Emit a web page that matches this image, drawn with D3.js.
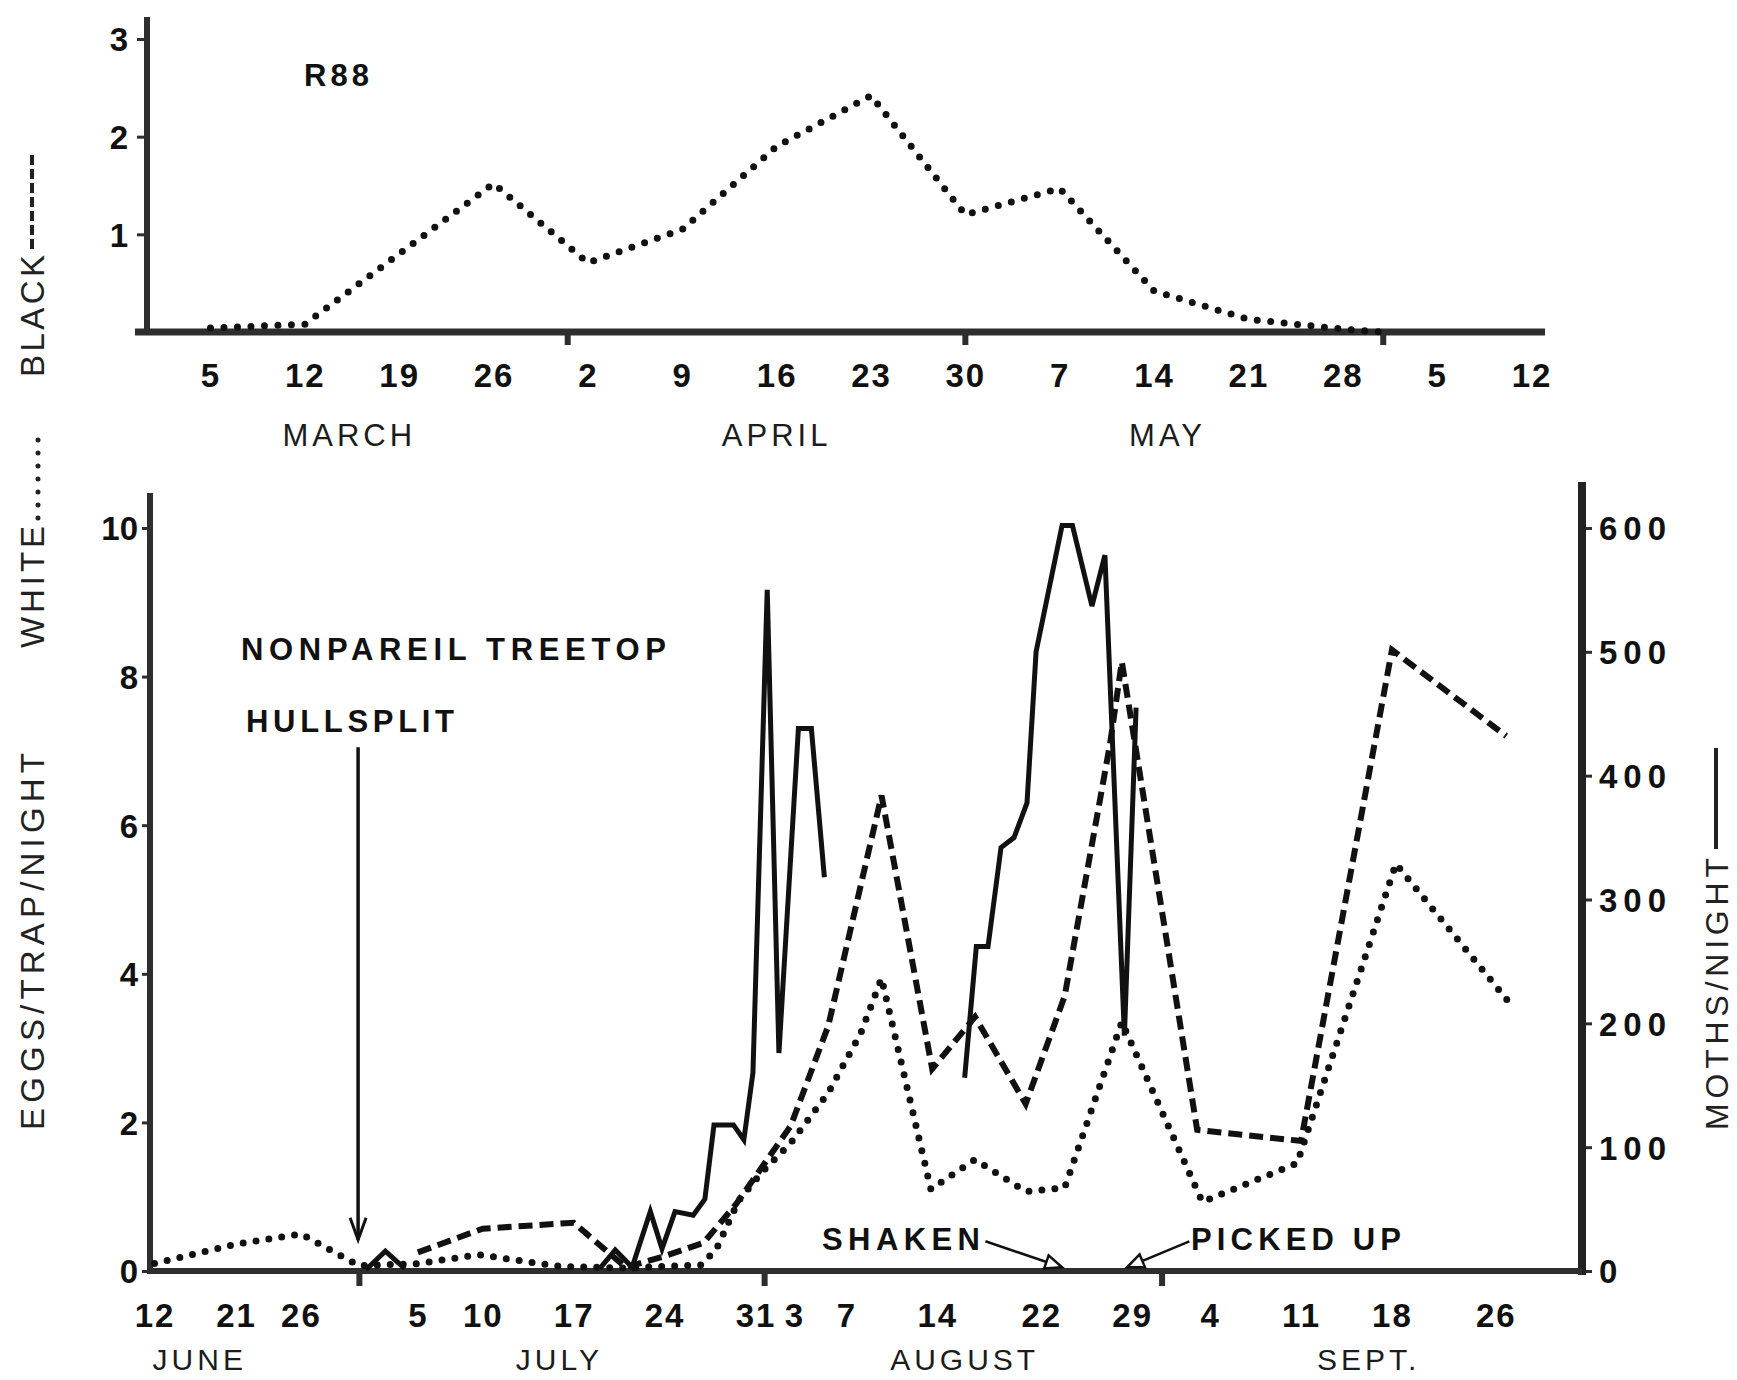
<!DOCTYPE html>
<html><head><meta charset="utf-8">
<script src="https://cdn.jsdelivr.net/npm/d3@7"></script>
<style>body{margin:0;background:#fff}svg{display:block}</style>
</head><body>
<script>
// ---------- DATA ----------
// Top panel (days since March 1)
const topTickDays   = [4,11,18,25,32,39,46,53,60,67,74,81,88,95,102];
const topTickLabels = ["5","12","19","26","2","9","16","23","30","7","14","21","28","5","12"];
const topMonths     = ["MARCH","APRIL","MAY"];
const topMonthDays  = [14.3,46,75];
const topMonthMarks = [30.5,60,91];
const topYTicks     = [1,2,3];
const topWhiteDays  = [4,11,25,32,39,46,53,60,67,74,81,88,91];
const topWhite      = [0.04,0.08,1.52,0.71,1.05,1.9,2.42,1.2,1.47,0.42,0.13,0.03,0];

// Bottom panel (days since June 1)
const botTickDays   = [11,20,25,34,39,46,53,60,63,67,74,82,89,95,102,109,117];
const botTickLabels = ["12","21","26","5","10","17","24","31","3","7","14","22","29","4","11","18","26"];
const botMonths     = ["JUNE","JULY","AUGUST","SEPT."];
const botMonthDays  = [16,44.9,76.1,107.2];
const botMonthMarks = [29.5,60.7,91.3];
const eggTicks      = [0,2,4,6,8,10];
const mothTicks     = [0,100,200,300,400,500,600];

const blackDays = [34,39,46,50,53,56,58.5,60.5,62.7,65.6,69.7,73.6,76.9,80.8,83.8,87.3,88.2,94,102,109,117.8];
const blackEggs = [0.25,0.57,0.65,0.05,0.2,0.38,0.9,1.4,1.95,3.3,6.4,2.72,3.42,2.25,3.7,7.1,8.2,1.9,1.75,8.36,7.2];

const whiteDays = [11,20,25,29.5,34,38.7,45,50,55.8,57,58.7,60.5,62.7,65.6,68.1,69.7,73.5,76.9,80.8,83.8,88.2,94.4,101.7,109.3,118];
const whiteEggs = [0.1,0.36,0.5,0.07,0.1,0.22,0.06,0.04,0.08,0.3,0.95,1.33,1.72,2.4,3.2,3.94,1.1,1.5,1.07,1.12,3.35,0.93,1.45,5.48,3.62];

// null = break in the moth record
const mothDays = [30,31.5,33,null,48,49.2,50.5,51.9,52.8,53.8,55.2,56.1,56.8,58.3,59.1,59.8,60.9,61.8,63.3,64.3,65.3,null,
                  76.1,77,77.9,78.9,79.9,80.9,81.6,83.6,84.4,85.9,86.9,88.4,89.3];
const moths    = [1,16,2,null,2,17,3,48,18,48,45,58,118,118,106,160,550,176,438,438,318,null,
                  156,262,262,342,350,378,500,602,602,537,578,190,455];

// ---------- SETUP ----------
const W = 1737, H = 1380, ink = "#111", axisInk = "#2e2e2e";
const svg = d3.select("body").append("svg").attr("width", W).attr("height", H)
  .style("font-family", "'Liberation Sans', Arial, sans-serif");
svg.append("rect").attr("width", W).attr("height", H).attr("fill", "#fff");

// ---------- TOP PANEL ----------
const xT = d3.scaleLinear().domain([-1.6, 103]).range([135, 1545]);
const yT = d3.scaleLinear().domain([0, 3]).range([332, 39]);

const gT = svg.append("g");
const axT = d3.axisLeft(yT).tickValues(topYTicks).tickSize(10).tickPadding(9).tickFormat(d3.format("d"));
gT.append("g").attr("transform", `translate(${xT.range()[0] + 12},0)`).call(axT)
  .call(g => g.select(".domain").remove())
  .call(g => g.selectAll("line").attr("stroke", axisInk).attr("stroke-width", 3))
  .call(g => g.selectAll("text").attr("fill", ink).attr("font-size", 33).attr("font-weight", "bold").attr("dy", "0.36em"));
const axTx = d3.axisBottom(xT).tickValues(topTickDays).tickSize(0).tickPadding(32)
  .tickFormat((d, i) => topTickLabels[i]);
gT.append("g").attr("transform", `translate(0,${yT(0)})`).call(axTx)
  .call(g => g.select(".domain").remove())
  .call(g => g.selectAll("text").attr("fill", ink).attr("font-size", 33).attr("font-weight", "bold").attr("letter-spacing", 2));
gT.append("line").attr("x1", 147).attr("x2", 147).attr("y1", 17).attr("y2", yT(0) + 3)
  .attr("stroke", axisInk).attr("stroke-width", 6);
gT.append("line").attr("x1", xT.range()[0]).attr("x2", xT.range()[1]).attr("y1", yT(0)).attr("y2", yT(0))
  .attr("stroke", axisInk).attr("stroke-width", 7);
gT.selectAll(".mm").data(topMonthMarks).join("rect")
  .attr("x", d => xT(d) - 3).attr("y", yT(0)).attr("width", 6).attr("height", 13).attr("fill", axisInk);
gT.selectAll(".ml").data(topMonths).join("text")
  .attr("x", (d, i) => xT(topMonthDays[i])).attr("y", 446).attr("text-anchor", "middle")
  .attr("font-size", 31).attr("letter-spacing", 4).attr("fill", "#1c1c1c").text(d => d);
gT.append("text").attr("x", 304).attr("y", 86).attr("font-size", 31).attr("font-weight", "bold")
  .attr("letter-spacing", 4).attr("fill", ink).text("R88");
const lineT = d3.line().x((d, i) => xT(topWhiteDays[i])).y(d => yT(d));
gT.append("path").attr("d", lineT(topWhite)).attr("fill", "none").attr("stroke", ink)
  .attr("stroke-width", 7).attr("stroke-linecap", "round").attr("stroke-dasharray", "0 13.5");

// ---------- BOTTOM PANEL ----------
const xB = d3.scaleLinear().domain([10.5, 20, 123.4]).range([150, 236, 1579]);
const yL = d3.scaleLinear().domain([0, 10]).range([1271, 528]);
const yR = d3.scaleLinear().domain([0, 600]).range([1271, 528]);
const gB = svg.append("g");

gB.append("g").attr("transform", "translate(150,0)")
  .call(d3.axisLeft(yL).tickValues(eggTicks).tickSize(8).tickPadding(4).tickFormat(d3.format("d")))
  .call(g => g.select(".domain").remove())
  .call(g => g.selectAll("line").attr("stroke", axisInk).attr("stroke-width", 3))
  .call(g => g.selectAll("text").attr("fill", ink).attr("font-size", 33).attr("font-weight", "bold").attr("dy", "0.36em"));
gB.append("g").attr("transform", "translate(1582,0)")
  .call(d3.axisRight(yR).tickValues(mothTicks).tickSize(10).tickPadding(7).tickFormat(d3.format("d")))
  .call(g => g.select(".domain").remove())
  .call(g => g.selectAll("line").attr("stroke", axisInk).attr("stroke-width", 3))
  .call(g => g.selectAll("text").attr("fill", ink).attr("font-size", 33).attr("font-weight", "bold")
    .attr("letter-spacing", 6).attr("dy", "0.36em"));
gB.append("g").attr("transform", `translate(0,${yL(0)})`)
  .call(d3.axisBottom(xB).tickValues(botTickDays).tickSize(0).tickPadding(33).tickFormat((d, i) => botTickLabels[i]))
  .call(g => g.select(".domain").remove())
  .call(g => g.selectAll("text").attr("fill", ink).attr("font-size", 33).attr("font-weight", "bold").attr("letter-spacing", 2));
gB.append("line").attr("x1", 150).attr("x2", 150).attr("y1", 493).attr("y2", yL(0) + 3)
  .attr("stroke", axisInk).attr("stroke-width", 6);
gB.append("line").attr("x1", 1582).attr("x2", 1582).attr("y1", 482).attr("y2", yL(0) + 4)
  .attr("stroke", "#222").attr("stroke-width", 8);
gB.append("line").attr("x1", 147).attr("x2", 1582).attr("y1", yL(0)).attr("y2", yL(0))
  .attr("stroke", axisInk).attr("stroke-width", 6);
gB.selectAll(".mm").data(botMonthMarks).join("rect")
  .attr("x", d => xB(d) - 3).attr("y", yL(0)).attr("width", 6).attr("height", 15).attr("fill", axisInk);
gB.selectAll(".ml").data(botMonths).join("text")
  .attr("x", (d, i) => xB(botMonthDays[i])).attr("y", 1370).attr("text-anchor", "middle")
  .attr("font-size", 30).attr("letter-spacing", 4).attr("fill", "#1c1c1c").text(d => d);

// series
const lineW = d3.line().x((d, i) => xB(whiteDays[i])).y(d => yL(d));
const lineBk = d3.line().x((d, i) => xB(blackDays[i])).y(d => yL(d));
const lineM = d3.line().defined(d => d !== null).x((d, i) => xB(mothDays[i])).y(d => yR(d));

gB.append("path").attr("d", lineW(whiteEggs)).attr("fill", "none").attr("stroke", ink)
  .attr("stroke-width", 7).attr("stroke-linecap", "round").attr("stroke-dasharray", "0 13");
gB.append("path").attr("d", lineBk(blackEggs)).attr("fill", "none").attr("stroke", ink)
  .attr("stroke-width", 6).attr("stroke-dasharray", "14 7");
gB.append("path").attr("d", lineM(moths)).attr("fill", "none").attr("stroke", ink)
  .attr("stroke-width", 5).attr("stroke-linejoin", "miter");

// annotations
function label(x, y, txt, len, size, weight) {
  gB.append("text").attr("x", x).attr("y", y).attr("font-size", size).attr("font-weight", weight || "bold")
    .attr("fill", ink).attr("textLength", len).attr("lengthAdjust", "spacing").text(txt);
}
label(241, 660, "NONPAREIL  TREETOP", 425, 31);
label(246, 732, "HULLSPLIT", 208, 31);
label(822, 1250, "SHAKEN", 158, 31);
label(1191, 1250, "PICKED UP", 210, 31);

const hullDay = 29.4;
gB.append("line").attr("x1", xB(hullDay)).attr("x2", xB(hullDay)).attr("y1", yL(7.05)).attr("y2", yL(0.42))
  .attr("stroke", ink).attr("stroke-width", 3.5);
gB.append("path").attr("d", `M${xB(hullDay) - 8},${yL(0.42) - 22} L${xB(hullDay)},${yL(0.42)} L${xB(hullDay) + 8},${yL(0.42) - 22}`)
  .attr("fill", "none").attr("stroke", ink).attr("stroke-width", 3);

function arrow(d1, v1, d2, v2) {
  const x1 = xB(d1), y1 = yL(v1), x2 = xB(d2), y2 = yL(v2);
  gB.append("line").attr("x1", x1).attr("y1", y1).attr("x2", x2).attr("y2", y2)
    .attr("stroke", ink).attr("stroke-width", 2.5);
  const a = Math.atan2(y2 - y1, x2 - x1), L = 18, s = 0.4;
  const p1 = [x2 - L * Math.cos(a - s), y2 - L * Math.sin(a - s)];
  const p2 = [x2 - L * Math.cos(a + s), y2 - L * Math.sin(a + s)];
  gB.append("path").attr("d", `M${p1} L${x2},${y2} L${p2} Z`).attr("fill", "#fff")
    .attr("stroke", ink).attr("stroke-width", 2.5);
}
arrow(77.7, 0.4, 83.6, 0.05);
arrow(93.4, 0.4, 88.6, 0.05);

// ---------- SIDE LABELS ----------
const gl = svg.append("g").attr("transform", "translate(44,1130) rotate(-90)").attr("fill", "#222");
gl.append("text").attr("x", 0).attr("y", 0).attr("font-size", 33).attr("textLength", 377)
  .attr("lengthAdjust", "spacing").text("EGGS/TRAP/NIGHT");
gl.append("text").attr("x", 482).attr("y", 0).attr("font-size", 33).attr("textLength", 122)
  .attr("lengthAdjust", "spacing").text("WHITE");
gl.append("line").attr("x1", 612).attr("x2", 692).attr("y1", -6).attr("y2", -6).attr("stroke", "#222")
  .attr("stroke-width", 5).attr("stroke-linecap", "round").attr("stroke-dasharray", "0 13");
gl.append("text").attr("x", 753).attr("y", 0).attr("font-size", 33).attr("textLength", 122)
  .attr("lengthAdjust", "spacing").text("BLACK");
gl.append("line").attr("x1", 881).attr("x2", 975).attr("y1", -12).attr("y2", -12).attr("stroke", "#222")
  .attr("stroke-width", 4).attr("stroke-dasharray", "10 4");

const gr = svg.append("g").attr("transform", "translate(1728,1130) rotate(-90)").attr("fill", "#222");
gr.append("text").attr("x", 0).attr("y", 0).attr("font-size", 32).attr("textLength", 272)
  .attr("lengthAdjust", "spacing").text("MOTHS/NIGHT");
gr.append("line").attr("x1", 281).attr("x2", 382).attr("y1", -12).attr("y2", -12).attr("stroke", "#222")
  .attr("stroke-width", 4);
</script>
</body></html>
